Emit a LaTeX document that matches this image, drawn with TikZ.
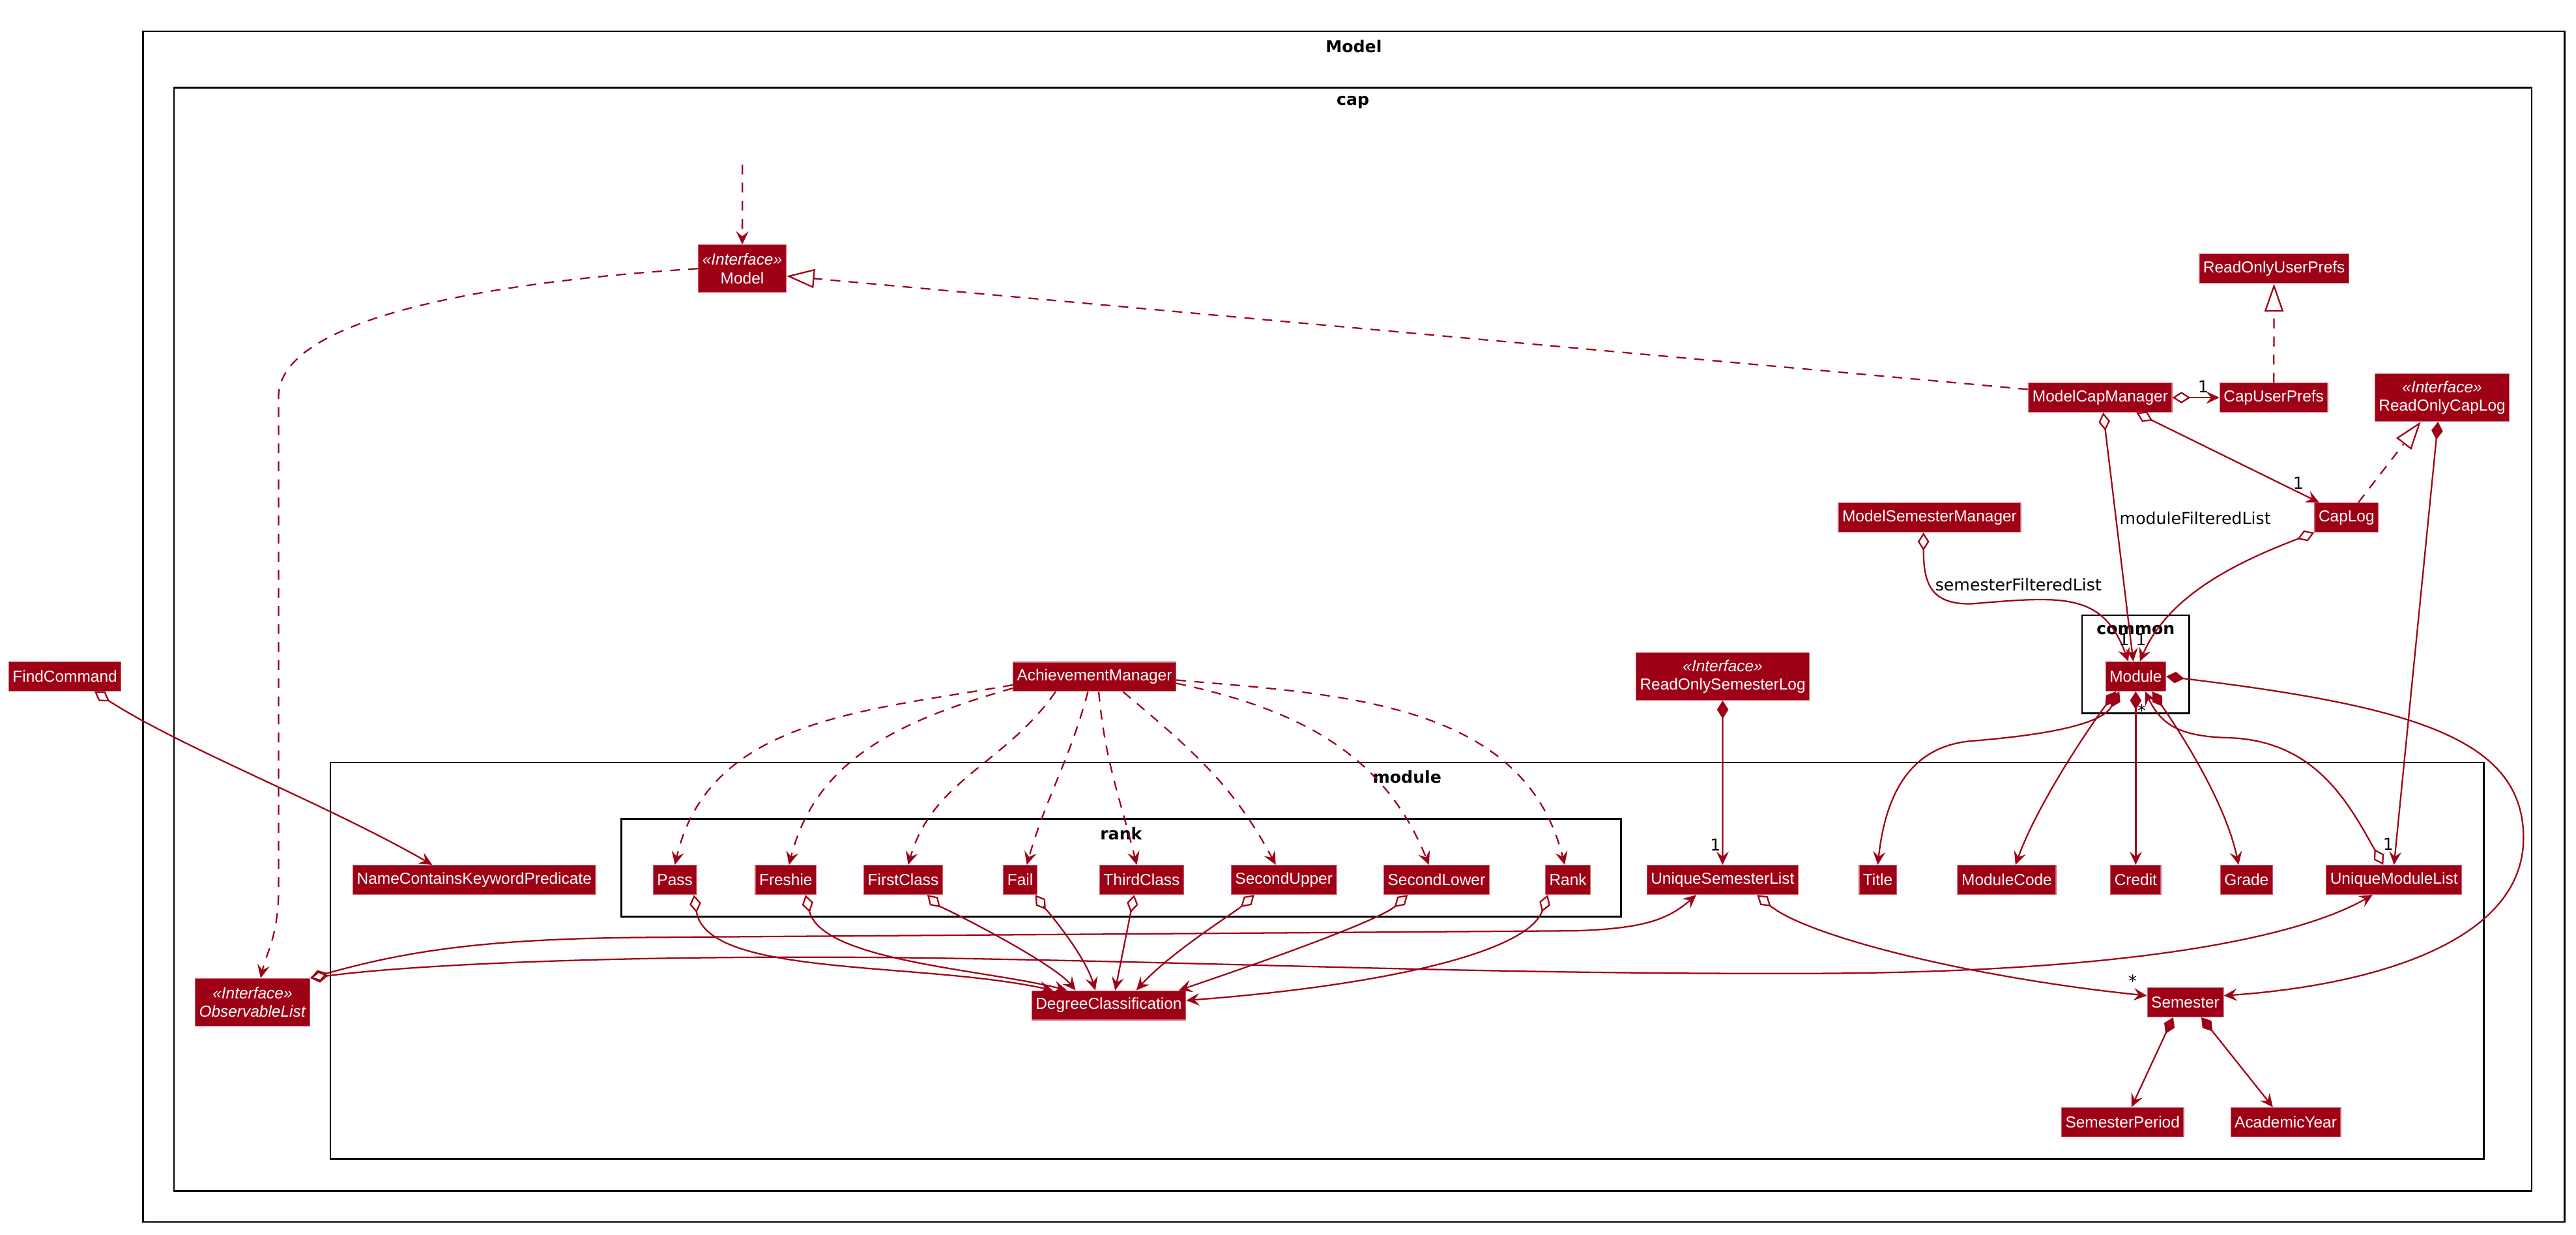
\documentclass[tikz,border=0pt]{standalone}
\usepackage{fontspec}
\setmainfont{Liberation Sans}
\newfontfamily\lblfont{DejaVu Sans}
\usetikzlibrary{arrows.meta}
\definecolor{umlred}{RGB}{158,0,22}
\definecolor{umlrim}{RGB}{205,100,115}

\begin{document}
\begin{tikzpicture}[x=1pt, y=-1pt, >={Stealth[length=8pt, width=7.5pt, inset=3pt]}]
    \useasboundingbox (0,0) rectangle (1568,751.3);

    \tikzstyle{cls} = [rectangle, fill = umlred, draw = umlrim, line width = 0.5pt, text = white, font = \fontsize{9.7}{11.3}\selectfont, inner xsep = 2.4pt, inner ysep = 0pt, minimum height = 17.8pt]
    \tikzstyle{iface} = [cls, align = center, minimum height = 28.9pt]
    \tikzstyle{pkg} = [draw, line width = 1pt]
    \tikzstyle{pkgtitle} = [font = \lblfont\bfseries\fontsize{10}{12}\selectfont, inner sep = 0pt]
    \tikzstyle{lbl} = [font = \lblfont\fontsize{10}{12}\selectfont, inner sep = 0pt]
    \tikzstyle{conn} = [umlred, line width = 0.9pt]
    \tikzstyle{dep} = [conn, dash pattern = on 6pt off 5pt, ->]
    \tikzstyle{real} = [conn, dash pattern = on 6pt off 5pt, -{Triangle[open, length = 17pt, width = 11.5pt]}]
    \tikzstyle{agg} = [conn, {Diamond[open, length = 11pt, width = 7pt]}->]
    \tikzstyle{comp} = [conn, {Diamond[length = 11pt, width = 7pt]}->]

    % packages
    \draw[pkg] (87,19.1) rectangle (1561,743.8);
    \node[pkgtitle] (tmodel) at (824,28.1) {Model};
    \draw[pkg] (106,53.3) rectangle (1541,724.8);
    \node[pkgtitle] (tcap) at (823.5,62.3) {cap};
    \draw[pkg] (201.1,464.1) rectangle (1511.8,705.5);
    \node[pkgtitle] (tmod) at (856.5,473) {module};
    \draw[pkg] (378.2,498.3) rectangle (986.6,557.9);
    \node[pkgtitle] (trank) at (682.4,507.3) {rank};
    \draw[pkg] (1267.4,374.4) rectangle (1332.6,434.1);
    \node[pkgtitle] (tcommon) at (1300,383.4) {common};

    % classes
    \coordinate (src) at (451.9,100.2);
    \node[cls] (findcmd) at (39.5,411.7) {FindCommand};
    \node[iface] (model) at (451.8,163.5) {\textit{«Interface»}\\Model};
    \node[cls] (roup) at (1384.2,163.5) {ReadOnlyUserPrefs};
    \node[cls] (mcm) at (1278.4,242) {ModelCapManager};
    \node[cls] (cup) at (1384,242) {CapUserPrefs};
    \node[iface] (rocl) at (1486.5,242) {\textit{«Interface»}\\ReadOnlyCapLog};
    \node[cls] (msm) at (1174.5,315) {ModelSemesterManager};
    \node[cls] (caplog) at (1428.3,315) {CapLog};
    \node[cls] (module) at (1300,411.7) {Module};
    \node[cls] (achmgr) at (666.2,411.9) {AchievementManager};
    \node[iface] (rosl) at (1048.6,411.7) {\textit{«Interface»}\\ReadOnlySemesterLog};
    \node[iface] (obslist) at (153.7,610) {\textit{«Interface»}\\\textit{ObservableList}};

    \node[cls] (ncp) at (288.7,535.5) {NameContainsKeywordPredicate};
    \node[cls] (pass) at (410.8,535.5) {Pass};
    \node[cls] (freshie) at (478.3,535.5) {Freshie};
    \node[cls] (first) at (549.8,535.5) {FirstClass};
    \node[cls] (fail) at (621,535.5) {Fail};
    \node[cls] (third) at (694.9,535.5) {ThirdClass};
    \node[cls] (upper) at (781.5,535.5) {SecondUpper};
    \node[cls] (lower) at (874.4,535.5) {SecondLower};
    \node[cls] (rank) at (954.4,535.5) {Rank};
    \node[cls] (usl) at (1048.5,535.5) {UniqueSemesterList};
    \node[cls] (title) at (1143,535.5) {Title};
    \node[cls] (modcode) at (1221.5,535.5) {ModuleCode};
    \node[cls] (credit) at (1300,535.5) {Credit};
    \node[cls] (grade) at (1367.4,535.5) {Grade};
    \node[cls] (uml) at (1457.2,535.5) {UniqueModuleList};
    \node[cls] (degcls) at (674.9,611.9) {DegreeClassification};
    \node[cls] (sem) at (1330.2,610) {Semester};
    \node[cls] (semper) at (1292,683) {SemesterPeriod};
    \node[cls] (acyear) at (1391.3,683) {AcademicYear};

    % model side
    \draw[dep] (src) -- (model);
    \draw[dep] (model.west) .. controls (290,172) and (172,195) .. (169.6,240)
        -- (169.6,540) .. controls (169.6,570) and (162,580) .. ([xshift=5pt]obslist.north);
    \draw[real] ([yshift=5pt]mcm.west) -- ([yshift=-4.5pt]model.east);
    \draw[agg] (mcm) -- (cup);
    \draw[real] (cup) -- (roup);
    \draw[agg] ([xshift=1.8pt]mcm.south) -- ([xshift=-1.5pt]module.north);
    \draw[agg] ([xshift=22pt]mcm.south) -- ([xshift=3pt]caplog.north west);
    \draw[real] ([xshift=7.2pt]caplog.north) -- ([xshift=-13pt]rocl.south);
    \draw[comp] ([xshift=-2.5pt]rocl.south) -- (uml.north);
    \draw[agg] ([xshift=-3.7pt]msm.south) .. controls (1170.8,355) and (1175,368) .. (1200,367.5)
        .. controls (1255,363) and (1280,360) .. ([xshift=-4.5pt]module.north);
    \draw[agg] (caplog.south west) .. controls (1362,342) and (1320,362) .. ([xshift=2.5pt]module.north);

    \node[lbl, anchor = west] (mfl) at (1290,315.3) {moduleFilteredList};
    \node[lbl, anchor = west] (sfl) at (1177.8,355.8) {semesterFilteredList};
    \node[lbl] (m1) at (1341,235.4) {1};
    \node[lbl] (m2) at (1399,294) {1};
    \node[lbl] (m3) at (1292.9,389.1) {1};
    \node[lbl] (m4) at (1303.3,389.1) {1};

    % module parts
    \draw[comp] ([xshift=-10pt]module.south) .. controls (1280,440) and (1250,447) .. (1200,451)
        .. controls (1165,454) and (1148,480) .. (title.north);
    \draw[comp] ([xshift=-12pt]module.south) .. controls (1270,445) and (1240,490) .. ([xshift=5.3pt]modcode.north);
    \draw[comp] (module) -- (credit);
    \draw[comp] ([xshift=10pt]module.south) .. controls (1330,450) and (1355,490) .. ([xshift=-4.8pt]grade.north);
    \draw[agg] ([xshift=-6.5pt]uml.north) .. controls (1430,490) and (1410,450) .. (1355,449)
        .. controls (1325,448) and (1315,440) .. ([xshift=5.7pt]module.south);
    \draw[comp] (module.east) .. controls (1470,430) and (1536,450) .. (1536,510)
        .. controls (1536,575) and (1440,600) .. ([yshift=4pt]sem.east);
    \node[lbl] (m5) at (1303.7,432.3) {*};
    \node[lbl] (m7) at (1453.7,513.6) {1};

    % semesters
    \draw[comp] (rosl) -- (usl);
    \draw[agg] ([xshift=21pt]usl.south) .. controls (1100,570) and (1200,595) .. ([yshift=4pt]sem.west);
    \draw[comp] ([xshift=-7.4pt]sem.south) -- ([xshift=5.4pt]semper.north);
    \draw[comp] ([xshift=9.7pt]sem.south) -- ([xshift=-7.8pt]acyear.north);
    \node[lbl] (m6) at (1044.2,514) {1};
    \node[lbl] (m8) at (1298.1,597) {*};

    % observable list
    \draw[agg] (obslist.north east) .. controls (250,578) and (300,571) .. (400,570.5)
        -- (960,566.5) .. controls (1000,565) and (1015,560) .. ([xshift=-16pt]usl.south);
    \draw[agg] (obslist.north east) .. controls (260,586) and (400,581) .. (560,583)
        .. controls (760,586) and (900,593) .. (1100,592.5)
        .. controls (1300,592) and (1400,570) .. ([xshift=-13pt]uml.south);
    \draw[agg] ([xshift=18pt]findcmd.south) .. controls (110,455) and (200,490) .. ([xshift=-25.6pt]ncp.north);

    % achievements
    \draw[dep] ([yshift=-5pt]achmgr.west) to[out = 190, in = 77] (pass.north);
    \draw[dep] ([yshift=-7pt]achmgr.west) to[out = 196, in = 76] ([xshift=2pt]freshie.north);
    \draw[dep] ([xshift=-23.7pt]achmgr.south) to[out = 235, in = 74] ([xshift=3pt]first.north);
    \draw[dep] ([xshift=-4pt]achmgr.south) to[out = 255, in = 74] ([xshift=4pt]fail.north);
    \draw[dep] ([xshift=2.6pt]achmgr.south) to[out = 275, in = 104] ([xshift=-3pt]third.north);
    \draw[dep] ([xshift=17.4pt]achmgr.south) to[out = -40, in = 118] ([xshift=-5pt]upper.north);
    \draw[dep] ([yshift=-4pt]achmgr.east) to[out = -12, in = 112] ([xshift=-4.6pt]lower.north);
    \draw[dep] ([yshift=-2pt]achmgr.east) to[out = -5, in = 104] ([xshift=-2pt]rank.north);

    % ranks
    \draw[agg] ([xshift=11.6pt]pass.south) .. controls (430,595) and (560,585) .. ([xshift=-34pt]degcls.north);
    \draw[agg] ([xshift=12pt]freshie.south) .. controls (500,585) and (600,590) .. ([xshift=-25.4pt]degcls.north);
    \draw[agg] ([xshift=14.6pt]first.south) .. controls (570,550) and (640,585) .. ([xshift=-20.2pt]degcls.north);
    \draw[agg] ([xshift=9.2pt]fail.south) .. controls (634,550) and (660,580) .. ([xshift=-8.2pt]degcls.north);
    \draw[agg] ([xshift=-4.5pt]third.south) -- ([xshift=3.9pt]degcls.north);
    \draw[agg] ([xshift=-18pt]upper.south) .. controls (752,555) and (712,580) .. ([xshift=16.8pt]degcls.north);
    \draw[agg] ([xshift=-17.5pt]lower.south) .. controls (840,560) and (770,585) .. ([xshift=42.6pt]degcls.north);
    \draw[agg] ([xshift=-12.3pt]rank.south) .. controls (930,580) and (840,600) .. ([yshift=3pt]degcls.east);
\end{tikzpicture}
\end{document}
